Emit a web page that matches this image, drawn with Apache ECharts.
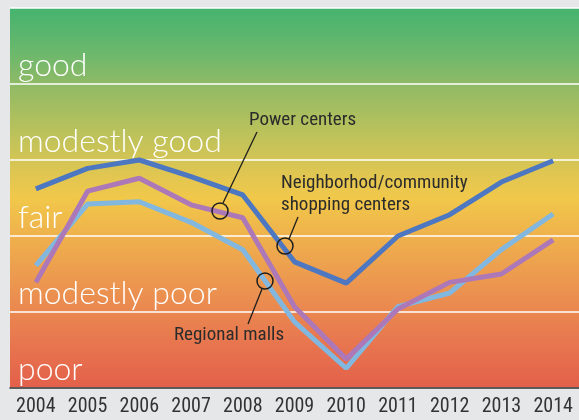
<!DOCTYPE html>
<html><head><meta charset="utf-8">
<script src="https://cdn.jsdelivr.net/npm/echarts@6/dist/echarts.min.js"></script>
<style>html,body{margin:0;padding:0;background:#e6e7e9;}#c{width:579px;height:420px;}</style>
</head><body><div id="c"></div>
<script>
const years = ['2004','2005','2006','2007','2008','2009','2010','2011','2012','2013','2014'];
const bandLabels = ['poor','modestly poor','fair','modestly good','good'];
const neighborhood = [2.62, 2.89, 3.00, 2.78, 2.54, 1.66, 1.38, 2.00, 2.28, 2.71, 2.99];
const powerCenters = [1.39, 2.59, 2.76, 2.41, 2.24, 1.07, 0.38, 1.04, 1.39, 1.50, 1.95];
const regionalMalls = [1.61, 2.42, 2.45, 2.18, 1.82, 0.87, 0.26, 1.07, 1.25, 1.82, 2.29];

const chart = echarts.init(document.getElementById('c'), null, {renderer:'canvas'});
const narrow = '"Roboto Condensed", sans-serif';
const ink = '#2b2b2b';
chart.setOption({
  backgroundColor: '#e6e7e9',
  animation: false,
  grid: {
    left: 10, right: -3, top: 8, bottom: 32, show: true, borderWidth: 0,
    backgroundColor: new echarts.graphic.LinearGradient(0, 0, 0, 1, [
      {offset: 0, color: '#45b36f'},
      {offset: 0.12, color: '#6cb86c'},
      {offset: 0.2, color: '#8fba66'},
      {offset: 0.33, color: '#bcc25b'},
      {offset: 0.44, color: '#e1c651'},
      {offset: 0.5, color: '#f1c84a'},
      {offset: 0.6, color: '#efb14c'},
      {offset: 0.75, color: '#eb9150'},
      {offset: 0.87, color: '#e8784f'},
      {offset: 1, color: '#e3604a'}
    ])
  },
  xAxis: {
    type: 'category', data: years, boundaryGap: true,
    axisLine: {lineStyle: {color: ink, width: 1.5}},
    axisTick: {inside: true, length: 8, interval: 0, lineStyle: {color: ink, width: 1.5}},
    axisLabel: {color: '#333', fontFamily: narrow, fontSize: 20, margin: 9, interval: 0}
  },
  yAxis: {
    type: 'value', min: 0, max: 5, interval: 1,
    axisLine: {show: false}, axisTick: {show: false},
    splitLine: {lineStyle: {color: 'rgba(255,255,255,0.75)', width: 2}},
    axisLabel: {
      inside: true, margin: 8, verticalAlign: 'bottom', color: '#fff',
      fontFamily: 'Lato, sans-serif', fontWeight: 300, fontSize: 32, padding: [0,0,2,0],
      formatter: v => bandLabels[v] || ''
    }
  },
  series: [
    {name: 'Regional malls', type: 'line', data: regionalMalls, symbol: 'none', lineStyle: {color: '#82b8e0', width: 5}, itemStyle:{color:'#82b8e0'}},
    {name: 'Power centers', type: 'line', data: powerCenters, symbol: 'none', lineStyle: {color: '#ad78b8', width: 5}, itemStyle:{color:'#ad78b8'}},
    {name: 'Neighborhod/community shopping centers', type: 'line', data: neighborhood, symbol: 'none', lineStyle: {color: '#4d77c1', width: 5}, itemStyle:{color:'#4d77c1'}}
  ],
  graphic: [
    {type: 'circle', shape: {cx: 220, cy: 211, r: 8}, style: {fill: 'none', stroke: '#1e1e1e', lineWidth: 1.5}, z: 100},
    {type: 'line', shape: {x1: 223, y1: 203, x2: 257, y2: 132}, style: {stroke: '#1e1e1e', lineWidth: 1.3}, z: 100},
    {type: 'text', left: 249, top: 111, style: {text: 'Power centers', fill: ink, font: '19px ' + narrow}, z: 100},
    {type: 'circle', shape: {cx: 285, cy: 246, r: 8}, style: {fill: 'none', stroke: '#1e1e1e', lineWidth: 1.5}, z: 100},
    {type: 'line', shape: {x1: 289, y1: 239, x2: 298, y2: 217}, style: {stroke: '#1e1e1e', lineWidth: 1.3}, z: 100},
    {type: 'text', left: 281, top: 172, style: {text: 'Neighborhod/community\nshopping centers', fill: ink, font: '19px ' + narrow, lineHeight: 22}, z: 100},
    {type: 'circle', shape: {cx: 265, cy: 281, r: 8}, style: {fill: 'none', stroke: '#1e1e1e', lineWidth: 1.5}, z: 100},
    {type: 'line', shape: {x1: 262, y1: 289, x2: 248, y2: 324}, style: {stroke: '#1e1e1e', lineWidth: 1.3}, z: 100},
    {type: 'text', left: 174, top: 326, style: {text: 'Regional malls', fill: ink, font: '19px ' + narrow}, z: 100}
  ]
});
</script></body></html>
